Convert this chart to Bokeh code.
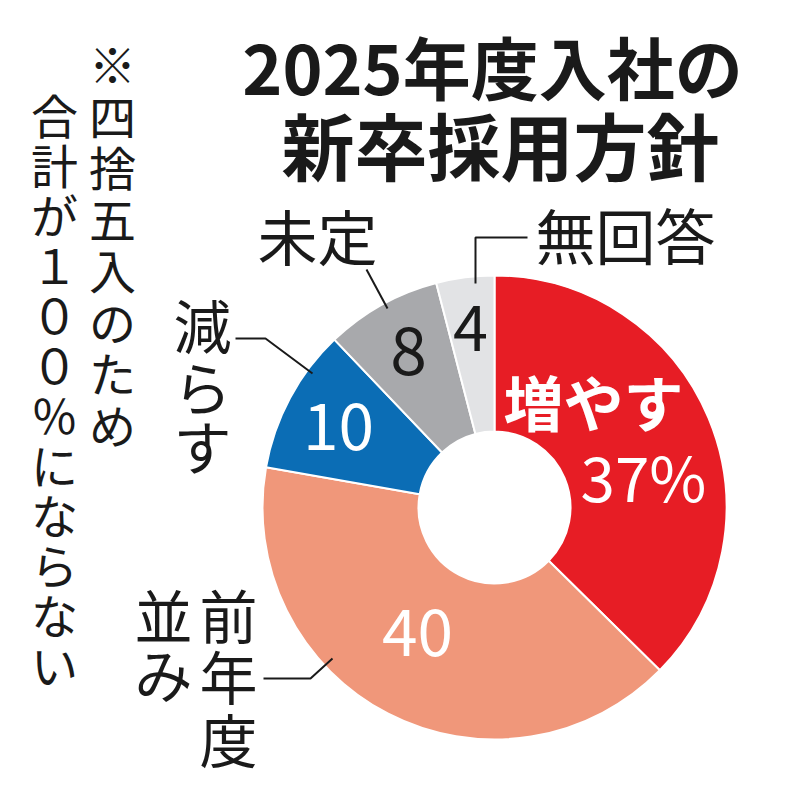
import math
from bokeh.plotting import figure
from bokeh.models import Range1d, ColumnDataSource
from bokeh.core.properties import value
from bokeh.embed import file_html
from bokeh.resources import INLINE

# ---- data ----
categories = ["増やす", "前年度並み", "減らす", "未定", "無回答"]
values = [37, 40, 10, 8, 4]
value_labels = ["37%", "40", "10", "8", "4"]
colors = ["#E71D25", "#F0977A", "#0B6DB5", "#A8A9AC", "#E2E3E5"]
title_lines = ["2025年度入社の", "新卒採用方針"]
note_col1 = "※四捨五入のため"
note_col2 = "合計が１００％にならない"

H = 800
def Y(v):
    return H - v

JP = "Noto Sans CJK JP"

p = figure(width=800, height=800, x_range=Range1d(0, 800), y_range=Range1d(0, 800),
           x_axis_type=None, y_axis_type=None, toolbar_location=None,
           output_backend="svg", min_border=0, outline_line_color=None,
           background_fill_color="white", border_fill_color="white")
p.grid.visible = False

# ---- donut ----
total = sum(values)
starts, ends = [], []
cum = 0
for v in values:
    starts.append(math.pi / 2 - 2 * math.pi * cum / total)
    cum += v
    ends.append(math.pi / 2 - 2 * math.pi * cum / total)

cx, cy = 494, Y(507)
src = ColumnDataSource(dict(cat=categories, val=values, start=starts, end=ends, color=colors,
                            x=[cx] * len(values), y=[cy] * len(values)))
p.annular_wedge(x="x", y="y", inner_radius=76, outer_radius=232, start_angle="start",
                end_angle="end", direction="clock", fill_color="color",
                line_color="white", line_width=2, source=src)

# ---- title ----
p.text(x=[492], y=[Y(65)], text=[title_lines[0]], text_font=value(JP), text_font_style="bold",
       text_font_size="68px", text_align="center", text_baseline="middle", text_color="#1a1a1a")
p.text(x=[500], y=[Y(142)], text=[title_lines[1]], text_font=value(JP), text_font_style="bold",
       text_font_size="73px", text_align="center", text_baseline="middle", text_color="#1a1a1a")

# ---- note (vertical) ----
for i, ch in enumerate(note_col1):
    p.text(x=[112], y=[Y(62 + i * 51.5)], text=[ch], text_font=value(JP), text_font_size="47px",
           text_align="center", text_baseline="middle", text_color="#1a1a1a")
for i, ch in enumerate(note_col2):
    p.text(x=[54], y=[Y(113 + i * 50)], text=[ch], text_font=value(JP), text_font_size="47px",
           text_align="center", text_baseline="middle", text_color="#1a1a1a")

# ---- category labels ----
def label(x, y, t, size="60px"):
    p.text(x=[x], y=[Y(y)], text=[t], text_font=value(JP), text_font_size=size,
           text_align="center", text_baseline="middle", text_color="#1a1a1a")

label(317, 234, categories[3])
label(625, 233, categories[4])
for ch, yy in zip("減らす", [323, 385, 444]):
    label(202, yy, ch, "58px")
for ch, yy in zip("前年度", [613, 674, 737]):
    label(228, yy, ch, "58px")
for ch, yy in zip("並み", [613, 672]):
    label(163, yy, ch, "58px")

# leader lines
leaders_x = [[366, 387], [527, 475, 475], [235, 265, 312], [263, 310, 332]]
leaders_y = [[269, 308], [237, 237, 283], [338, 338, 373], [678, 678, 658]]
p.multi_line(xs=leaders_x, ys=[[Y(v) for v in l] for l in leaders_y],
             line_color="#1a1a1a", line_width=2)

# ---- value labels ----
p.text(x=[593], y=[Y(400)], text=[categories[0]], text_font=value(JP), text_font_style="bold",
       text_font_size="60px", text_align="center", text_baseline="middle", text_color="white")
p.text(x=[643], y=[Y(474)], text=[value_labels[0]], text_font=value(JP),
       text_font_size="62px", text_align="center", text_baseline="middle", text_color="white")
p.text(x=[417], y=[Y(632)], text=[value_labels[1]], text_font=value(JP),
       text_font_size="64px", text_align="center", text_baseline="middle", text_color="white")
p.text(x=[338], y=[Y(426)], text=[value_labels[2]], text_font=value(JP),
       text_font_size="64px", text_align="center", text_baseline="middle", text_color="white")
p.text(x=[408], y=[Y(350)], text=[value_labels[3]], text_font=value(JP),
       text_font_size="66px", text_align="center", text_baseline="middle", text_color="#1a1a1a")
p.text(x=[470], y=[Y(327)], text=[value_labels[4]], text_font=value(JP),
       text_font_size="63px", text_align="center", text_baseline="middle", text_color="#1a1a1a")

open("out.html", "w").write(file_html(p, INLINE))
